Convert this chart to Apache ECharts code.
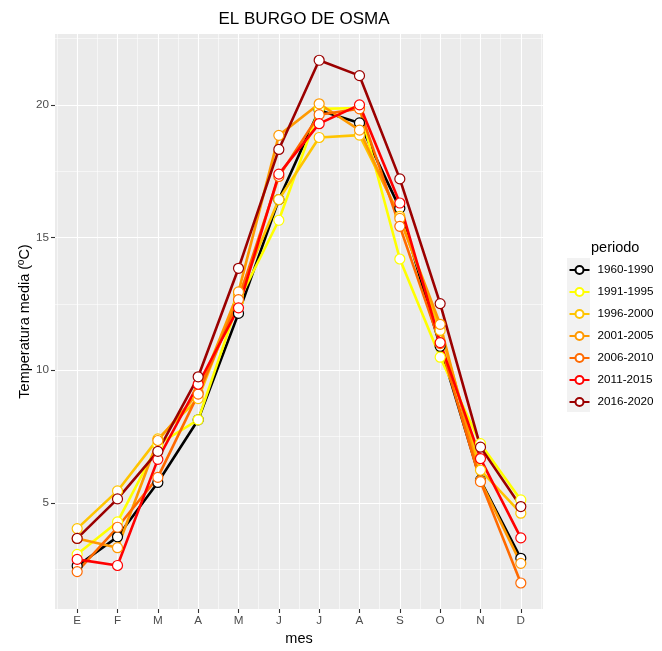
<!DOCTYPE html>
<html>
<head>
<meta charset="utf-8">
<script src="https://cdn.jsdelivr.net/npm/echarts@6/dist/echarts.min.js"></script>
<style>html,body{margin:0;padding:0;background:#fff}#c{width:662px;height:651px}</style>
</head>
<body>
<div id="c"></div>
<script>
const months = ['E','F','M','A','M','J','J','A','S','O','N','D'];
const monthNums = [1,2,3,4,5,6,7,8,9,10,11,12];
const periods = ['1960-1990','1991-1995','1996-2000','2001-2005','2006-2010','2011-2015','2016-2020'];
const colors = ['#000000','#FFFF00','#FFC400','#FF9900','#FF6A00','#FF0000','#9B0000'];
const s1960 = [2.62, 3.72, 5.77, 8.13, 12.14, 16.43, 19.80, 19.32, 16.10, 10.90, 5.85, 2.91];
const s1991 = [3.06, 4.28, 7.20, 8.13, 12.60, 15.65, 19.85, 19.88, 14.19, 10.49, 7.23, 5.11];
const s1996 = [4.03, 5.45, 7.41, 8.93, 12.82, 16.43, 18.77, 18.86, 15.80, 11.50, 6.23, 4.61];
const s2001 = [3.66, 3.31, 7.35, 9.15, 12.95, 18.85, 20.04, 19.05, 15.72, 11.73, 5.83, 2.72];
const s2006 = [2.41, 4.08, 5.96, 9.10, 12.66, 17.30, 19.63, 19.85, 15.42, 11.00, 5.80, 1.98];
const s2011 = [2.87, 2.64, 6.64, 9.47, 12.35, 17.39, 19.29, 20.00, 16.30, 11.04, 6.67, 3.68];
const s2016 = [3.66, 5.15, 6.94, 9.75, 13.84, 18.32, 21.68, 21.10, 17.21, 12.51, 7.10, 4.86];
const allSeries = [s1960, s1991, s1996, s2001, s2006, s2011, s2016];
const yMajor = [5, 10, 15, 20];
const yMinor = [2.5, 7.5, 12.5, 17.5, 22.5];
const xMinor = [0.5,1.5,2.5,3.5,4.5,5.5,6.5,7.5,8.5,9.5,10.5,11.5,12.5];

const font = 'Liberation Sans, Arial, Helvetica, sans-serif';
const chart = echarts.init(document.getElementById('c'), null, {renderer: 'canvas'});

const series = periods.map((p, i) => ({
  name: p,
  type: 'line',
  xAxisIndex: 0,
  yAxisIndex: 0,
  data: allSeries[i].map((v, j) => [monthNums[j], v]),
  symbol: 'circle',
  symbolSize: 10,
  showSymbol: true,
  lineStyle: {color: colors[i], width: 2.6},
  itemStyle: {color: '#ffffff', borderColor: colors[i], borderWidth: 1.2},
  emphasis: {disabled: true},
  animation: false
}));

const xMin = 0.45, xMax = 12.55, yMin = 1.0, yMax = 22.67;

chart.setOption({
  backgroundColor: '#ffffff',
  animation: false,
  textStyle: {fontFamily: font},
  title: [
    {text: 'EL BURGO DE OSMA', left: 299, textAlign: 'center', top: 6,
     textStyle: {fontFamily: font, fontSize: 17, fontWeight: 'normal', color: '#000'}},
    {text: 'periodo', left: 586, top: 235,
     textStyle: {fontFamily: font, fontSize: 14.5, fontWeight: 'normal', color: '#000'}}
  ],
  graphic: [
    {type: 'rect', left: 567, top: 258, shape: {width: 23, height: 154}, style: {fill: '#F2F2F2'}, z: -1}
  ],
  legend: {
    orient: 'vertical',
    left: 568.5, top: 263,
    itemWidth: 20, itemHeight: 10, itemGap: 8,
    padding: 0,
    textStyle: {fontFamily: font, fontSize: 11.7, color: '#000', padding: [0,0,0,3], lineHeight: 14},
    data: periods
  },
  grid: {left: 55, right: 119, top: 34, bottom: 36, show: true, backgroundColor: '#EBEBEB', borderWidth: 0},
  xAxis: [
    {type: 'value', min: xMin, max: xMax, position: 'bottom',
     name: 'mes', nameLocation: 'middle', nameGap: 22, nameMoveOverlap: false,
     nameTextStyle: {fontFamily: font, fontSize: 14.5, color: '#000'},
     axisLine: {show: false},
     axisTick: {show: true, customValues: monthNums, length: 4, lineStyle: {color: '#333333', width: 1.1}},
     axisLabel: {show: true, customValues: monthNums, formatter: v => months[Math.round(v) - 1], margin: 6,
                 fontFamily: font, fontSize: 11.7, color: '#4D4D4D'},
     splitLine: {show: true, lineStyle: {color: '#FFFFFF', width: 1.1}}},
    {type: 'value', min: xMin, max: xMax, position: 'top',
     axisLine: {show: false},
     axisTick: {show: false, customValues: xMinor},
     axisLabel: {show: false, customValues: xMinor},
     splitLine: {show: true, lineStyle: {color: '#FFFFFF', width: 0.55}}}
  ],
  yAxis: [
    {type: 'value', min: yMin, max: yMax, position: 'left',
     name: 'Temperatura media (ºC)', nameLocation: 'middle', nameRotate: 90, nameGap: 23, nameMoveOverlap: false,
     nameTextStyle: {fontFamily: font, fontSize: 14.5, color: '#000'},
     axisLine: {show: false},
     axisTick: {show: true, customValues: yMajor, length: 4, lineStyle: {color: '#333333', width: 1.1}},
     axisLabel: {show: true, customValues: yMajor, margin: 6, fontFamily: font, fontSize: 11.7, color: '#4D4D4D'},
     splitLine: {show: true, lineStyle: {color: '#FFFFFF', width: 1.1}}},
    {type: 'value', min: yMin, max: yMax, position: 'right',
     axisLine: {show: false},
     axisTick: {show: false, customValues: yMinor},
     axisLabel: {show: false, customValues: yMinor},
     splitLine: {show: true, lineStyle: {color: '#FFFFFF', width: 0.55}}}
  ],
  series: series
});
</script>
</body>
</html>
